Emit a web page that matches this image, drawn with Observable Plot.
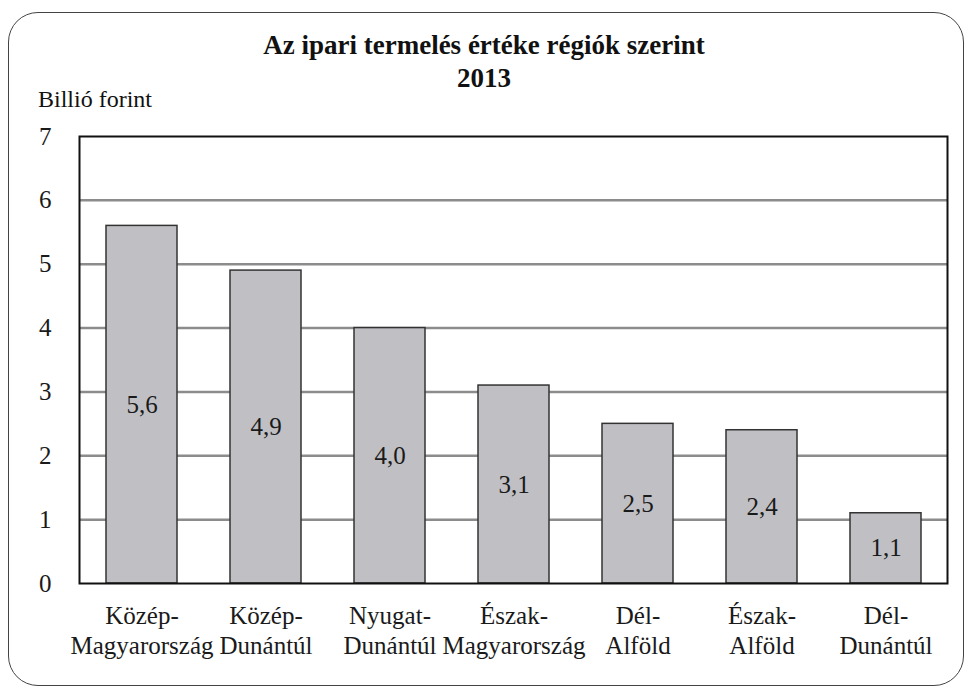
<!DOCTYPE html>
<html>
<head>
<meta charset="utf-8">
<script src="https://cdn.jsdelivr.net/npm/d3@7"></script>
<script src="https://cdn.jsdelivr.net/npm/@observablehq/plot@0.6"></script>
<style>
  body { margin: 0; background: #fff; }
  #wrap { position: relative; width: 971px; height: 693px; overflow: hidden; font-family: "Liberation Serif"; }
  #border { position: absolute; left: 8px; top: 12px; width: 954px; height: 672px; border: 1.5px solid #444; border-radius: 30px; }
  #title { position: absolute; left: 0; top: 29px; width: 968px; text-align: center; font-weight: bold; font-size: 27px; line-height: 33px; color: #111; font-family: "Liberation Serif"; }
  #ylabel { position: absolute; left: 38px; top: 85px; font-size: 24px; line-height: 28px; color: #111; font-family: "Liberation Serif"; }
  #chart { position: absolute; left: 0; top: 0; }
</style>
</head>
<body>
<div id="wrap">
  <div id="border"></div>
  <div id="chart"></div>
  <div id="title">Az ipari termelés értéke régiók szerint<br>2013</div>
  <div id="ylabel">Billió forint</div>
</div>
<script>
const regions = ["Közép-Magyarország", "Közép-Dunántúl", "Nyugat-Dunántúl", "Észak-Magyarország", "Dél-Alföld", "Észak-Alföld", "Dél-Dunántúl"];
const values = [5.6, 4.9, 4.0, 3.1, 2.5, 2.4, 1.1];
const yTicks = [0, 1, 2, 3, 4, 5, 6, 7];
const gridLines = [1, 2, 3, 4, 5, 6];

const data = regions.map((r, i) => ({region: r, value: values[i]}));
const fmt = v => v.toFixed(1).replace(".", ",");
const serif = "Liberation Serif";

const chart = Plot.plot({
  width: 971,
  height: 693,
  marginLeft: 79,
  marginRight: 24,
  marginTop: 136,
  marginBottom: 110,
  style: {fontSize: "25px", color: "#1a1a1a", background: "transparent"},
  x: {domain: regions, paddingInner: 0.43, paddingOuter: 0.215, label: null},
  y: {domain: [0, 7], label: null},
  marks: [
    Plot.ruleY(gridLines, {stroke: "#8c8c8c", strokeWidth: 2.5}),
    Plot.barY(data, {x: "region", y: "value", fill: "#c0c0c4", stroke: "#333", strokeWidth: 1.5}),
    Plot.text(data, {x: "region", y: d => d.value / 2, text: d => fmt(d.value), fontSize: 25, fontFamily: serif, fill: "#1a1a1a"}),
    Plot.frame({stroke: "#111", strokeWidth: 2}),
    Plot.axisY({ticks: yTicks, tickSize: 0, tickPadding: 28, label: null, fontSize: 25, fontFamily: serif, tickFormat: d => String(d)}),
    Plot.axisX({tickSize: 0, tickPadding: 19, label: null, fontSize: 25, fontFamily: serif, lineHeight: 1.2, tickFormat: d => d.replace("-", "-\n")})
  ]
});
document.getElementById("chart").appendChild(chart);
</script>
</body>
</html>
